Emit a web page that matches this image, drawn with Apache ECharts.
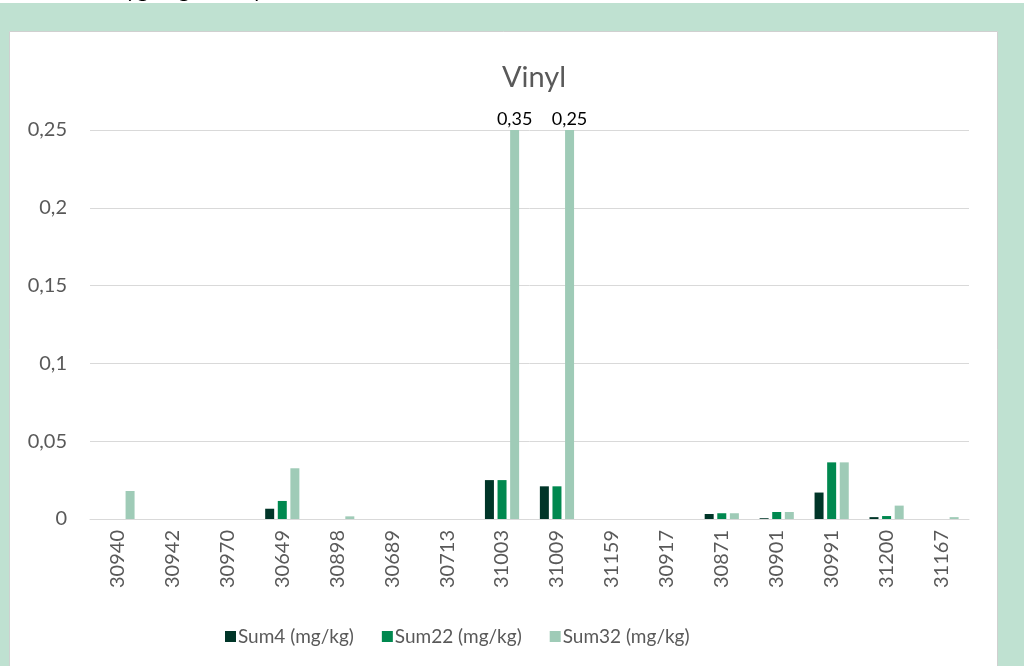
<!DOCTYPE html>
<html>
<head>
<meta charset="utf-8">
<style>
  html, body { margin: 0; padding: 0; background: #bfe1d1; }
  #chart { width: 1024px; height: 666px; }
</style>
<script src="https://cdn.jsdelivr.net/npm/echarts@6/dist/echarts.min.js"></script>
</head>
<body>
<div id="chart"></div>
<script>
// Sample IDs along the x axis
const categories = ['30940', '30942', '30970', '30649', '30898', '30689', '30713', '31003',
  '31009', '31159', '30917', '30871', '30901', '30991', '31200', '31167'];

// Sums in mg/kg per sample
const sum4  = [0, 0, 0, 0.0066, 0, 0, 0, 0.025, 0.021, 0, 0, 0.0032, 0.0005, 0.017, 0.0012, 0];
const sum22 = [0, 0, 0, 0.0116, 0, 0, 0, 0.025, 0.021, 0, 0, 0.0037, 0.0045, 0.0364, 0.0019, 0];
const sum32 = [0.018, 0, 0, 0.0326, 0.0017, 0, 0, 0.35, 0.25, 0, 0, 0.0037, 0.0045, 0.0364, 0.0086, 0.0012];

const seriesNames = ['Sum4 (mg/kg)', 'Sum22 (mg/kg)', 'Sum32 (mg/kg)'];
const yTicks = { min: 0, max: 0.25, interval: 0.05 };

const comma = v => String(v).replace('.', ',');
const FONT = 'Lato, "Open Sans", sans-serif';

// Bars reaching the top of the axis get their value written above them
const sum32Data = sum32.map(v => v >= yTicks.max ? { value: v, label: { show: true } } : v);

const chart = echarts.init(document.getElementById('chart'));
chart.setOption({
  animation: false,
  textStyle: { fontFamily: FONT },
  graphic: [
    { type: 'rect', shape: { x: 0, y: 0, width: 1024, height: 3 }, style: { fill: '#ffffff' }, silent: true, z: -10 },
    { type: 'text', left: 112, top: -21, style: { text: 'Bygningen, vinyl', fontSize: 22, fontFamily: FONT, fill: '#000' }, silent: true, z: -9 },
    { type: 'rect', shape: { x: 9.5, y: 31.5, width: 988, height: 640 },
      style: { fill: '#ffffff', stroke: '#d0d0d0', lineWidth: 1 }, silent: true, z: -10 }
  ],
  title: {
    text: 'Vinyl', left: 529, top: 58, textAlign: 'center',
    textStyle: { fontFamily: FONT, fontSize: 29, fontWeight: 'normal', color: '#595959' }
  },
  legend: {
    top: 622, left: 220, itemWidth: 11, itemHeight: 11, itemGap: 28,
    icon: 'rect',
    textStyle: { fontFamily: FONT, fontSize: 19, color: '#595959', padding: [0, 0, 0, -3] },
    data: seriesNames
  },
  grid: { left: 90, right: 55, top: 130, bottom: 147 },
  xAxis: {
    type: 'category', data: categories,
    axisLine: { lineStyle: { color: '#d9d9d9', width: 1 } },
    axisTick: { show: false },
    axisLabel: { rotate: 90, fontSize: 20, color: '#595959', margin: 11, fontFamily: FONT }
  },
  yAxis: {
    type: 'value', min: yTicks.min, max: yTicks.max, interval: yTicks.interval,
    axisLine: { show: false }, axisTick: { show: false },
    splitLine: { lineStyle: { color: '#d9d9d9', width: 1 } },
    axisLabel: { fontSize: 20, color: '#595959', margin: 23, fontFamily: FONT,
      formatter: v => comma(+v.toFixed(2)) }
  },
  series: [
    { name: seriesNames[0], type: 'bar', data: sum4, barWidth: 9, barGap: '40%',
      itemStyle: { color: '#003528' } },
    { name: seriesNames[1], type: 'bar', data: sum22, barWidth: 9, barGap: '40%',
      itemStyle: { color: '#00884f' } },
    { name: seriesNames[2], type: 'bar', data: sum32Data, barWidth: 9, barGap: '40%',
      itemStyle: { color: '#9fcbb7' }, clip: true,
      label: { show: false, position: 'top', distance: 2, color: '#000', fontSize: 18,
        fontFamily: FONT, formatter: p => comma(p.value) } }
  ]
});
</script>
</body>
</html>
